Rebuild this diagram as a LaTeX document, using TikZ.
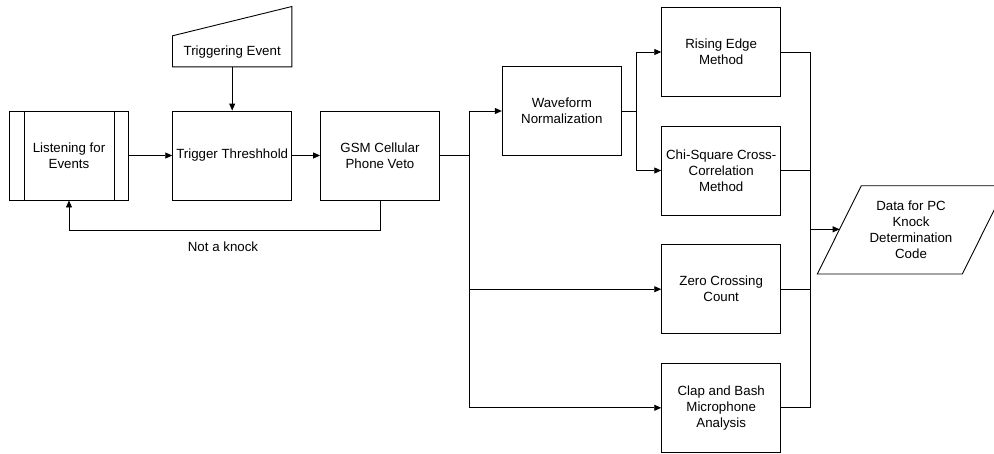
\documentclass[tikz,border=0pt]{standalone}
\usepackage{fontspec}
\setmainfont{Liberation Sans}
\usetikzlibrary{arrows.meta}
\begin{document}
\begin{tikzpicture}[x=1pt,y=-1pt,
 txt/.style={font=\fontsize{13.3}{16}\selectfont},
 box/.style={draw, line width=0.9pt, minimum width=119pt, minimum height=89pt, inner sep=1pt, align=center, txt},
 lbl/.style={align=center, inner sep=0pt, txt},
 line/.style={draw, line width=0.9pt},
 arr/.style={line, -{Triangle[length=7pt,width=6pt]}}]
\useasboundingbox (0,0) rectangle (994,453);
\clip (0,0) rectangle (994,453);
% top input shape
\node[lbl, minimum width=119pt, minimum height=30pt] (trig) at (232.2,51.7) {Triggering Event};
\draw[line] (trig.south west) -- (trig.south east) -- ([yshift=30pt]trig.north east) -- ([yshift=0.7pt]trig.north west) -- cycle;
% main row
\node[box] (listen) at (69,155.5) {Listening for\\Events};
\draw[line] ([xshift=15pt]listen.north west) -- ([xshift=15pt]listen.south west);
\draw[line] ([xshift=-15pt]listen.north east) -- ([xshift=-15pt]listen.south east);
\node[box] (trigger) at (232.2,155.5) {Trigger Threshhold};
\node[box] (gsm) at (380,155.5) {GSM Cellular\\Phone Veto};
\node[box] (wave) at (561.8,111) {Waveform\\Normalization};
% method boxes
\node[box] (rise) at (721.2,52) {Rising Edge\\Method};
\node[box] (chi) at (721.2,170.5) {Chi-Square Cross-\\Correlation\\Method};
\node[box] (zero) at (721.2,289.2) {Zero Crossing\\Count};
\node[box] (clap) at (721.2,407.8) {Clap and Bash\\Microphone\\Analysis};
% data parallelogram
\node[lbl] (data) at (911,229.5) {Data for PC\\Knock\\Determination\\Code};
\coordinate (dBL) at (817.3,274);
\coordinate (dBR) at (962.3,274);
\coordinate (dTR) at (1006.3,185.7);
\coordinate (dTL) at (861.3,185.7);
\draw[line] (dBL) -- (dBR) -- (dTR) -- (dTL) -- cycle;
\coordinate (dataL) at (839.6,229.3);
% label
\node[lbl] (nk) at (223,247) {Not a knock};
% connectors
\draw[arr] (trig.south) -- (trigger.north);
\draw[arr] (listen.east) -- (trigger.west);
\draw[arr] (trigger.east) -- (gsm.west);
\draw[arr] (gsm.south) -- ++(0,30) -| (listen.south);
\coordinate (s1) at (469.3,155.5);
\draw[line] (gsm.east) -- (s1);
\draw[arr] (s1) |- (wave.west);
\draw[arr] (s1) |- (zero.west);
\draw[arr] (s1) |- (clap.west);
\coordinate (s2) at (636.7,111);
\draw[line] (wave.east) -- (s2);
\draw[arr] (s2) |- (rise.west);
\draw[arr] (s2) |- (chi.west);
\coordinate (bus) at (810.3,229.3);
\draw[line] (rise.east) -| (bus);
\draw[line] (chi.east) -| (bus);
\draw[line] (zero.east) -| (bus);
\draw[line] (clap.east) -| (bus);
\draw[arr] (bus) -- (dataL);
\end{tikzpicture}
\end{document}
